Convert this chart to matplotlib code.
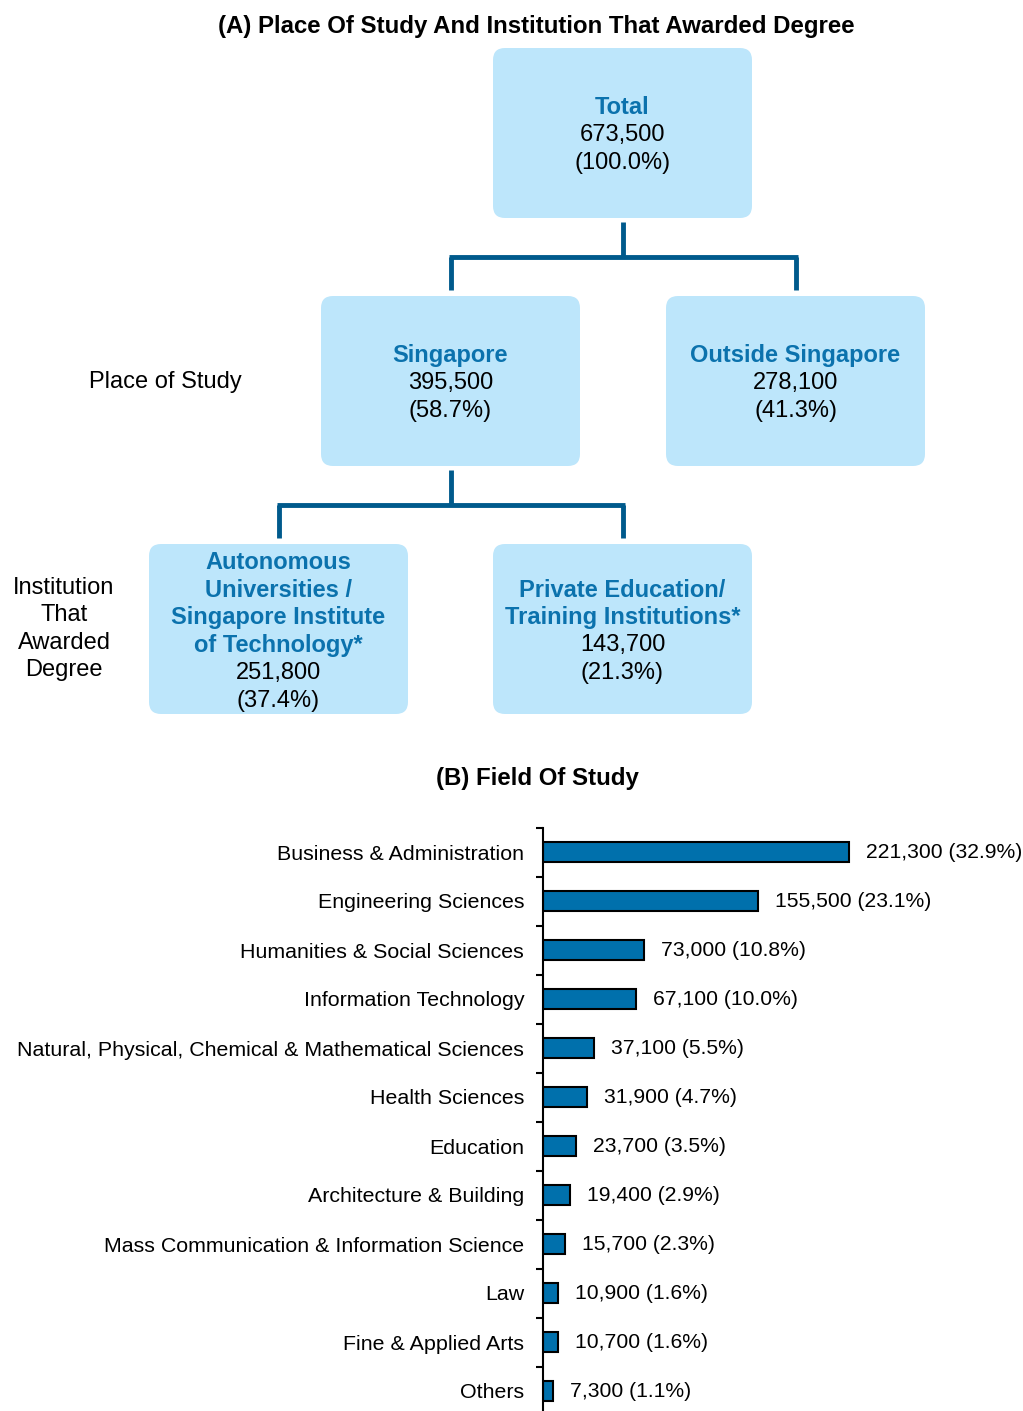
import matplotlib
matplotlib.use("Agg")
import matplotlib.pyplot as plt
import matplotlib.patches as mpatches
import numpy as np

plt.rcParams['font.family'] = ['Liberation Sans', 'DejaVu Sans']

# --- data ---
node_titles = ['Total', 'Singapore', 'Outside Singapore',
               'Autonomous\nUniversities /\nSingapore Institute\nof Technology*',
               'Private Education/\nTraining Institutions*']
node_values = [673500, 395500, 278100, 251800, 143700]
node_pcts = [100.0, 58.7, 41.3, 37.4, 21.3]

fields = ['Business & Administration', 'Engineering Sciences',
          'Humanities & Social Sciences', 'Information Technology',
          'Natural, Physical, Chemical & Mathematical Sciences',
          'Health Sciences', 'Education', 'Architecture & Building',
          'Mass Communication & Information Science', 'Law',
          'Fine & Applied Arts', 'Others']
field_values = [221300, 155500, 73000, 67100, 37100, 31900,
                23700, 19400, 15700, 10900, 10700, 7300]
field_pcts = [32.9, 23.1, 10.8, 10.0, 5.5, 4.7, 3.5, 2.9, 2.3, 1.6, 1.6, 1.1]

# --- styles ---
BOX = '#BDE6FB'
HEAD = '#0B72AD'
LINE = '#005A8C'
BAR = '#0070AC'

W, H = 1023, 1411
fig = plt.figure(figsize=(W / 100, H / 100), dpi=100)

# full-figure axes in pixel coordinates for the tree
ax0 = fig.add_axes([0, 0, 1, 1])
ax0.set_xlim(0, W)
ax0.set_ylim(H, 0)
ax0.axis('off')

ax0.text(536, 27, '(A) Place Of Study And Institution That Awarded Degree',
         ha='center', va='center', fontsize=17.3, fontweight='bold')

# box layout: (left, top) in px, all boxes 259 x 170
box_pos = [(493, 48), (321, 296), (666, 296), (149, 544), (493, 544)]
bw, bh = 259, 170
for (x, y), title, val, pct in zip(box_pos, node_titles, node_values, node_pcts):
    r = 12
    patch = mpatches.FancyBboxPatch((x + r, y + r), bw - 2 * r, bh - 2 * r,
                                    boxstyle=f"round,pad={r}",
                                    facecolor=BOX, edgecolor='none')
    ax0.add_patch(patch)
    n_head = title.count('\n') + 1
    n_lines = n_head + 2
    step = 27.6
    cy = y + bh / 2 + 2.5
    y0 = cy - (n_lines - 1) * step / 2
    for i, line in enumerate(title.split('\n')):
        ax0.text(x + bw / 2, y0 + i * step, line, ha='center', va='center',
                 fontsize=17, fontweight='bold', color=HEAD)
    ax0.text(x + bw / 2, y0 + n_head * step, f'{val:,}', ha='center',
             va='center', fontsize=17, color='black')
    ax0.text(x + bw / 2, y0 + (n_head + 1) * step, f'({pct:.1f}%)',
             ha='center', va='center', fontsize=17, color='black')


def connector(parent, left, right, ytop, ymid, ybot):
    kw = dict(color=LINE, lw=3.5, solid_capstyle='butt')
    ax0.plot([parent, parent], [ytop, ymid], **kw)
    ax0.plot([left - 2, right + 2], [ymid, ymid], **kw)
    ax0.plot([left, left], [ymid, ybot], **kw)
    ax0.plot([right, right], [ymid, ybot], **kw)


connector(622.5, 450.5, 795.5, 222, 257, 290)
connector(450.5, 278.5, 622.5, 470, 505, 538)

ax0.text(165, 382, 'Place of Study', ha='center', va='center', fontsize=17)
ax0.text(64, 629, 'Institution\nThat\nAwarded\nDegree', ha='center',
         va='center', fontsize=17, linespacing=1.3)

ax0.text(537, 779, '(B) Field Of Study', ha='center', va='center',
         fontsize=17.3, fontweight='bold')

# --- bar chart ---
top_px, step_px = 827.5, 49
ax_h = step_px * len(fields)
ax_w = 480
ax = fig.add_axes([543 / W, (H - top_px - ax_h) / H, ax_w / W, ax_h / H])
ax.patch.set_alpha(0)
scale = 306 / 221300  # px per unit
ax.set_xlim(0, ax_w / scale)
ax.set_ylim(len(fields) - 0.5, -0.5)

y = np.arange(len(fields))
ax.barh(y, field_values, height=0.41, color=BAR, edgecolor='black', linewidth=1.5)
for yi, v, p in zip(y, field_values, field_pcts):
    ax.text(v + 17 / scale, yi + 0.02, f'{v:,} ({p:.1f}%)', ha='left',
            va='center', fontsize=15.2)

for s in ['top', 'right', 'bottom']:
    ax.spines[s].set_visible(False)
ax.spines['left'].set_linewidth(1.5)
ax.set_xticks([])
ax.set_yticks(y)
ax.set_yticklabels(fields, fontsize=15.4)
ax.tick_params(axis='y', which='major', length=0, pad=13.5)
ax.set_yticks(np.arange(-0.5, len(fields), 1), minor=True)
ax.tick_params(axis='y', which='minor', length=5, width=1.5, direction='out')

fig.savefig('out.png', dpi=100)
